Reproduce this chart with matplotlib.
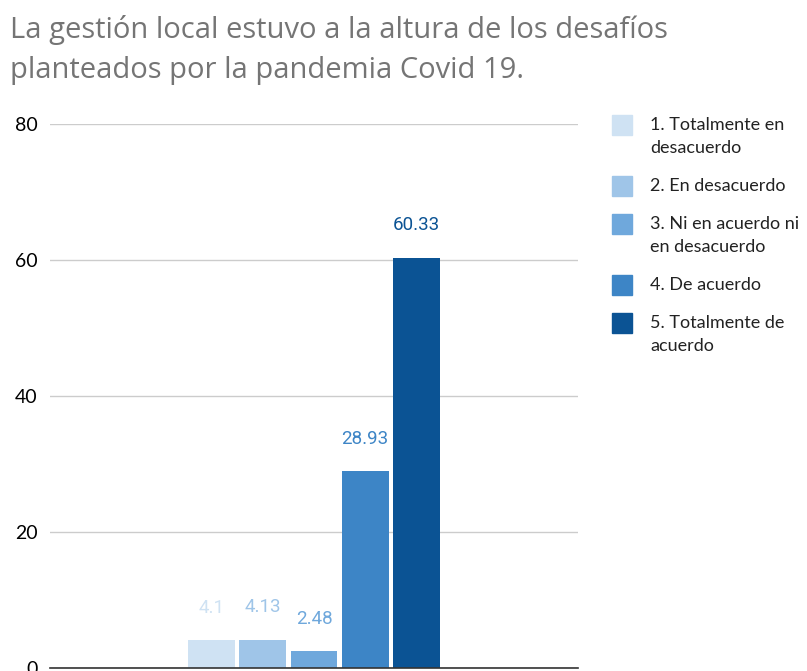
import matplotlib
matplotlib.use("Agg")
import matplotlib.pyplot as plt
from matplotlib.patches import Rectangle
import numpy as np

# Survey answers, one bar per answer level
categories = ["1. Totalmente en\ndesacuerdo", "2. En desacuerdo",
              "3. Ni en acuerdo ni\nen desacuerdo", "4. De acuerdo",
              "5. Totalmente de\nacuerdo"]
values = [4.1, 4.13, 2.48, 28.93, 60.33]
value_labels = ["4.1", "4.13", "2.48", "28.93", "60.33"]
colors = ["#cfe2f3", "#9fc5e8", "#6fa8dc", "#3d85c6", "#0b5394"]
yticks = [0, 20, 40, 60, 80]
title_lines = ["La gestión local estuvo a la altura de los desafíos",
               "planteados por la pandemia Covid 19."]

W, H = 807, 671
fig = plt.figure(figsize=(W / 100, H / 100), dpi=100)
ax = fig.add_axes([50 / W, 1 - 668 / H, 528 / W, 544 / H])

width = 0.089
step = 0.0966
n = len(values)
offsets = (np.arange(n) - (n - 1) / 2) * step
for i in range(n):
    ax.bar(offsets[i], values[i], width=width, color=colors[i], zorder=3)
    ax.annotate(value_labels[i], (offsets[i], values[i]), xytext=(0, 17),
                textcoords="offset points", ha="center", va="bottom",
                color=colors[i], fontsize=13.5, family="Roboto")

ax.set_xlim(-0.5, 0.5)
ax.set_ylim(0, 80)
ax.set_yticks(yticks)
ax.set_xticks([])
ax.tick_params(axis="y", length=0, pad=9, labelsize=14)
for lab in ax.get_yticklabels():
    lab.set_family("Lato")
ax.grid(axis="y", color="#cccccc", linewidth=1, zorder=0)
for s in ["top", "right", "left"]:
    ax.spines[s].set_visible(False)
ax.spines["bottom"].set_color("#333333")
ax.spines["bottom"].set_linewidth(1.2)
ax.spines["bottom"].set_zorder(4)

# legend drawn by hand: square + wrapped label, 23 px per text line
y = 125
for lab, col in zip(categories, colors):
    fig.patches.append(Rectangle((612 / W, 1 - (y + 10) / H), 20 / W, 20 / H,
                                 transform=fig.transFigure, color=col))
    for k, line in enumerate(lab.split("\n")):
        fig.text(650 / W, 1 - (y + 23 * k) / H, line, ha="left", va="center",
                 fontsize=13, family="Lato", color="#222222")
    y += 38 + 23 * (lab.count("\n"))

# two-line title in grey
for k, line in enumerate(title_lines):
    fig.text(10 / W, 1 - (38 + 40 * k) / H, line, ha="left", va="baseline",
             fontsize=21, color="#757575", family="Open Sans")

fig.savefig("out.png", dpi=100)
